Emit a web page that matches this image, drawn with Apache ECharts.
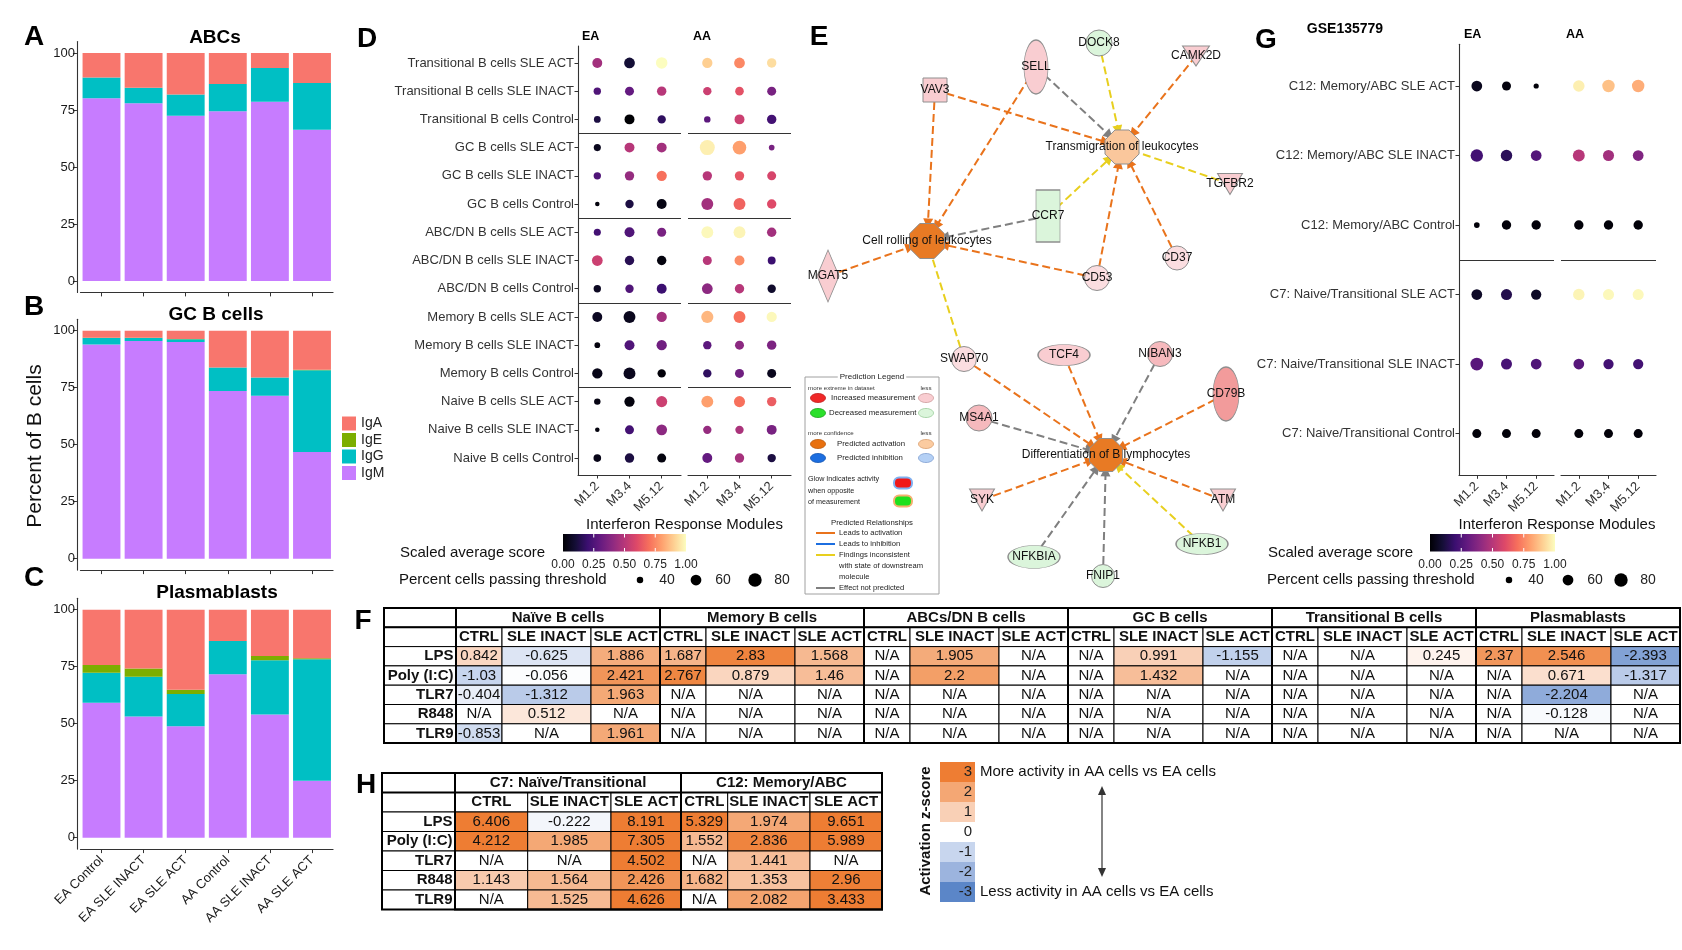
<!DOCTYPE html>
<html>
<head>
<meta charset="utf-8">
<script src="https://cdn.jsdelivr.net/npm/echarts@6.0.0/dist/echarts.min.js"></script>
<style>
html,body{margin:0;padding:0;background:#ffffff;}
#chart{width:1682px;height:950px;}
</style>
</head>
<body>
<div id="chart"></div>
<script>
// ================= DATA =================
const barCategories = ['EA Control','EA SLE INACT','EA SLE ACT','AA Control','AA SLE INACT','AA SLE ACT'];
const isotypes = ['IgA','IgE','IgG','IgM'];
// Panel A: ABCs
const abcIgM = [80.2, 78.0, 72.5, 74.5, 78.6, 66.3];
const abcIgG = [9.0, 6.8, 9.3, 11.9, 14.8, 20.5];
const abcIgE = [0, 0, 0, 0, 0, 0];
const abcIgA = [10.8, 15.2, 18.2, 13.6, 6.6, 13.2];
// Panel B: GC B cells
const gcIgM = [94.0, 95.5, 95.0, 73.5, 71.5, 46.8];
const gcIgG = [2.8, 1.3, 1.3, 10.4, 8.0, 35.9];
const gcIgE = [0.1, 0.1, 0.1, 0, 0, 0.2];
const gcIgA = [3.1, 3.1, 3.6, 16.1, 20.5, 17.1];
// Panel C: Plasmablasts
const pbIgM = [59.2, 53.2, 48.9, 71.7, 54.0, 25.0];
const pbIgG = [13.2, 17.4, 14.1, 14.6, 23.8, 53.3];
const pbIgE = [3.4, 3.6, 1.9, 0, 1.9, 0.4];
const pbIgA = [24.2, 25.8, 35.1, 13.7, 20.3, 21.3];

// Panel D: dot plot (rows listed top to bottom)
const modules = ['M1.2','M3.4','M5.12'];
const dRows = ['Transitional B cells SLE ACT','Transitional B cells SLE INACT','Transitional B cells Control',
  'GC B cells SLE ACT','GC B cells SLE INACT','GC B cells Control',
  'ABC/DN B cells SLE ACT','ABC/DN B cells SLE INACT','ABC/DN B cells Control',
  'Memory B cells SLE ACT','Memory B cells SLE INACT','Memory B cells Control',
  'Naive B cells SLE ACT','Naive B cells SLE INACT','Naive B cells Control'];
const dScoreEA = [[0.45,0.10,1.00],[0.25,0.30,0.50],[0.12,0.00,0.17],[0.05,0.50,0.45],[0.25,0.42,0.70],
  [0.02,0.12,0.03],[0.22,0.25,0.35],[0.55,0.15,0.02],[0.06,0.25,0.20],[0.06,0.05,0.45],
  [0.02,0.25,0.33],[0.04,0.05,0.01],[0.03,0.02,0.55],[0.02,0.22,0.40],[0.04,0.12,0.02]];
const dScoreAA = [[0.90,0.75,0.93],[0.55,0.62,0.35],[0.28,0.55,0.22],[0.97,0.80,0.35],[0.50,0.63,0.58],
  [0.45,0.67,0.60],[0.99,0.98,0.45],[0.50,0.76,0.20],[0.40,0.50,0.08],[0.85,0.70,0.99],
  [0.28,0.40,0.36],[0.17,0.33,0.05],[0.80,0.70,0.65],[0.42,0.47,0.35],[0.30,0.46,0.12]];
const dPctEA = [[55,60,65],[43,50,52],[41,55,47],[42,55,55],[43,52,57],[36,47,55],[42,55,50],[60,52,52],
  [43,47,55],[55,68,57],[38,55,57],[57,68,47],[40,57,62],[36,50,60],[44,52,50]];
const dPctAA = [[57,60,52],[47,48,50],[40,55,52],[95,82,38],[52,52,50],[68,68,52],[68,68,52],[50,55,45],
  [60,52,47],[70,68,57],[47,50,52],[47,50,50],[68,62,52],[47,47,55],[55,52,47]];

// Panel G: GSE135779 dot plot
const gRows = ['C12: Memory/ABC SLE ACT','C12: Memory/ABC SLE INACT','C12: Memory/ABC Control',
  'C7: Naive/Transitional SLE ACT','C7: Naive/Transitional SLE INACT','C7: Naive/Transitional Control'];
const gScoreEA = [[0.05,0.02,0.01],[0.22,0.16,0.26],[0.01,0.01,0.01],[0.07,0.14,0.07],[0.27,0.23,0.25],[0.01,0.01,0.01]];
const gScoreAA = [[0.97,0.87,0.83],[0.50,0.45,0.37],[0.01,0.01,0.01],[0.98,0.99,0.99],[0.27,0.22,0.22],[0.01,0.01,0.01]];
const gPctEA = [[60,50,37],[72,65,60],[38,52,52],[60,62,57],[75,62,60],[50,50,50]];
const gPctAA = [[65,72,72],[68,62,60],[52,52,52],[65,62,62],[60,57,57],[50,50,50]];
const colorbarTicks = ['0.00','0.25','0.50','0.75','1.00'];
const sizeLegend = [40, 60, 80];

// Panel E: network (nodes with measurement / prediction class, and relationships)
const netNodes = [
  ['DOCK8','decreased'],['CAMK2D','increased'],['SELL','increased'],['VAV3','increased'],
  ['Transmigration of leukocytes','activationWeak'],['TGFBR2','increased'],['CCR7','decreased'],
  ['Cell rolling of leukocytes','activation'],['CD37','increasedWeak'],['CD53','increasedWeak'],
  ['MGAT5','increased'],['SWAP70','increasedWeak'],['TCF4','increased'],['NIBAN3','increasedMid'],
  ['CD79B','increasedStrong'],['MS4A1','increasedMid'],['Differentiation of B lymphocytes','activation'],
  ['SYK','increased'],['ATM','increased'],['NFKBIA','decreased'],['NFKB1','decreased'],['FNIP1','decreased']
];
const netLinks = [
  ['VAV3','Cell rolling of leukocytes','activation'],['VAV3','Transmigration of leukocytes','activation'],
  ['SELL','Cell rolling of leukocytes','activation'],['SELL','Transmigration of leukocytes','notPredicted'],
  ['DOCK8','Transmigration of leukocytes','inconsistent'],['CAMK2D','Transmigration of leukocytes','activation'],
  ['TGFBR2','Transmigration of leukocytes','inconsistentBar'],['CCR7','Transmigration of leukocytes','inconsistent'],
  ['CCR7','Cell rolling of leukocytes','notPredicted'],['CD53','Cell rolling of leukocytes','activation'],
  ['CD53','Transmigration of leukocytes','activation'],['CD37','Transmigration of leukocytes','activation'],
  ['MGAT5','Cell rolling of leukocytes','activation'],['SWAP70','Cell rolling of leukocytes','inconsistentBar'],
  ['SWAP70','Differentiation of B lymphocytes','activation'],['TCF4','Differentiation of B lymphocytes','activation'],
  ['NIBAN3','Differentiation of B lymphocytes','notPredicted'],['CD79B','Differentiation of B lymphocytes','activation'],
  ['MS4A1','Differentiation of B lymphocytes','notPredicted'],['SYK','Differentiation of B lymphocytes','activation'],
  ['ATM','Differentiation of B lymphocytes','activation'],['NFKBIA','Differentiation of B lymphocytes','notPredicted'],
  ['FNIP1','Differentiation of B lymphocytes','notPredicted'],['NFKB1','Differentiation of B lymphocytes','inconsistent']
];

// Panel F: activation z-scores
const fGroups = ['Naïve B cells','Memory B cells','ABCs/DN B cells','GC B cells','Transitional B cells','Plasmablasts'];
const fConditions = ['CTRL','SLE INACT','SLE ACT'];
const fStimuli = ['LPS','Poly (I:C)','TLR7','R848','TLR9'];
const fValues = [
  [0.842,-0.625,1.886, 1.687,2.83,1.568, null,1.905,null, null,0.991,-1.155, null,null,0.245, 2.37,2.546,-2.393],
  [-1.03,-0.056,2.421, 2.767,0.879,1.46, null,2.2,null, null,1.432,null, null,null,null, null,0.671,-1.317],
  [-0.404,-1.312,1.963, null,null,null, null,null,null, null,null,null, null,null,null, null,-2.204,null],
  [null,0.512,null, null,null,null, null,null,null, null,null,null, null,null,null, null,-0.128,null],
  [-0.853,null,1.961, null,null,null, null,null,null, null,null,null, null,null,null, null,null,null]
];
// Panel H
const hGroups = ['C7: Naïve/Transitional','C12: Memory/ABC'];
const hConditions = ['CTRL','SLE INACT','SLE ACT'];
const hStimuli = ['LPS','Poly (I:C)','TLR7','R848','TLR9'];
const hValues = [
  [6.406,-0.222,8.191, 5.329,1.974,9.651],
  [4.212,1.985,7.305, 1.552,2.836,5.989],
  [null,null,4.502, null,1.441,null],
  [1.143,1.564,2.426, 1.682,1.353,2.96],
  [null,1.525,4.626, null,2.082,3.433]
];
const zLegendLevels = [3,2,1,0,-1,-2,-3];

// ================= STYLE / LAYOUT =================
const FF = '"Liberation Sans", Arial, Helvetica, sans-serif';
const isoColors = {IgA:'#F8766D', IgE:'#7CAE00', IgG:'#00BFC4', IgM:'#C77CFF'};
const AX = '#333333';
const MAGMA = ['#000004','#140e36','#3b0f70','#641a80','#8c2981','#b73779','#de4968','#f7705c','#fe9f6d','#fecf92','#fcfdbf'];
const Z_STOPS = [[-3,'#5B86C8'],[-2,'#9CB4DE'],[-1,'#C8D6EE'],[0,'#FFFFFF'],[1,'#F9D0B6'],[2,'#F4A774'],[3,'#EE7D33']];

function hex2rgb(h){return [parseInt(h.slice(1,3),16),parseInt(h.slice(3,5),16),parseInt(h.slice(5,7),16)];}
function mix(a,b,t){const A=hex2rgb(a),B=hex2rgb(b);return 'rgb('+A.map((v,i)=>Math.round(v+(B[i]-v)*t)).join(',')+')';}
function magma(t){t=Math.max(0,Math.min(1,t));const s=t*10;const i=Math.min(9,Math.floor(s));return mix(MAGMA[i],MAGMA[i+1],s-i);}
function zColor(v){
  if(v===null||v===undefined) return '#FFFFFF';
  const x=Math.max(-3,Math.min(3,v));
  for(let i=0;i<Z_STOPS.length-1;i++){
    if(x<=Z_STOPS[i+1][0]) return mix(Z_STOPS[i][1],Z_STOPS[i+1][1],(x-Z_STOPS[i][0])/(Z_STOPS[i+1][0]-Z_STOPS[i][0]));
  }
  return Z_STOPS[Z_STOPS.length-1][1];
}
function dotSize(p){return 3+1.55*Math.sqrt(Math.max(0,p-35));}

// network layout (positions of nodes in the drawing) and shapes
const netLayout = {
  'DOCK8':[1099,43],'CAMK2D':[1196,56],'SELL':[1036,67],'VAV3':[935,90],
  'Transmigration of leukocytes':[1122,147],'TGFBR2':[1230,184],'CCR7':[1048,216],
  'Cell rolling of leukocytes':[927,241],'CD37':[1177,258],'CD53':[1097,278],'MGAT5':[828,276],
  'SWAP70':[964,359],'TCF4':[1064,355],'NIBAN3':[1160,354],'CD79B':[1226,394],'MS4A1':[979,418],
  'Differentiation of B lymphocytes':[1106,455],'SYK':[982,500],'ATM':[1223,500],
  'NFKBIA':[1034,557],'NFKB1':[1202,544],'FNIP1':[1103,576]
};
const SYM = {
  octagon:'path://M29.3,0L70.7,0L100,29.3L100,70.7L70.7,100L29.3,100L0,70.7L0,29.3Z',
  ellipse:'path://M0,50A50,50 0 1 0 100,50A50,50 0 1 0 0,50Z',
  downTri:'path://M0,0L100,0L50,100Z',
  tbar:'path://M0,0L100,0L100,16L0,16ZM50,100L50,100',
  circle:'circle', rect:'rect', diamond:'diamond'
};
const netShape = {
  'DOCK8':['circle',[26,26]],'CAMK2D':['downTri',[27,20]],'SELL':['ellipse',[24,54]],'VAV3':['rect',[24,24]],
  'Transmigration of leukocytes':['octagon',[34,34]],'TGFBR2':['downTri',[25,21]],'CCR7':['rect',[24,52]],
  'Cell rolling of leukocytes':['octagon',[35,35]],'CD37':['circle',[24,24]],'CD53':['circle',[25,25]],
  'MGAT5':['diamond',[22,52]],'SWAP70':['circle',[25,25]],'TCF4':['ellipse',[52,21]],'NIBAN3':['circle',[25,25]],
  'CD79B':['ellipse',[26,54]],'MS4A1':['circle',[26,26]],'Differentiation of B lymphocytes':['octagon',[33,33]],
  'SYK':['downTri',[25,22]],'ATM':['downTri',[25,22]],'NFKBIA':['ellipse',[52,23]],'NFKB1':['ellipse',[52,21]],
  'FNIP1':['circle',[23,23]]
};
const netFill = {decreased:'#DBF5DB', increased:'#F9CDD1', increasedWeak:'#FBDDE0', increasedMid:'#F6B9BD',
  increasedStrong:'#F29B9B', activation:'#E87A24', activationWeak:'#FAC79C'};
const relColor = {activation:'#E9731C', notPredicted:'#7F7F7F', inconsistent:'#E8CF1E', inconsistentBar:'#E8CF1E'};

// table column widths (layout)
const fColW = [72].concat(...fGroups.map(()=>[46,89,69]));
const hColW = [73, 72.7, 83.3, 70, 46.7, 82.3, 72];

// ================= BUILD =================
const chart = echarts.init(document.getElementById('chart'), null, {width:1682, height:950});

const grids = [
  {left:80.45, top:41.6, width:252.6, height:250.8},   // 0 A
  {left:80.45, top:319.3, width:252.6, height:250.8},  // 1 B
  {left:80.45, top:598.3, width:252.6, height:250.8},  // 2 C
  {left:578, top:46, width:103, height:429},           // 3 D EA
  {left:688, top:46, width:103, height:429},           // 4 D AA
  {left:1459, top:44.3, width:95, height:431},         // 5 G EA
  {left:1561, top:44.3, width:95, height:431},         // 6 G AA
  {left:0, top:0, width:1682, height:950},             // 7 E network
  {left:384, top:608, width:1296, height:135.1},       // 8 F table
  {left:382, top:773, width:500, height:136.5}         // 9 H table
];
const xAxes = [], yAxes = [];
const axLine = {show:true, onZero:false, lineStyle:{color:AX, width:1.1}};
for(let i=0;i<3;i++){
  xAxes.push({type:'category', gridIndex:i, data:barCategories, boundaryGap:true,
    axisLine:axLine, axisTick:{show:true, alignWithLabel:true, interval:0, length:4, lineStyle:{color:AX}},
    axisLabel: i===2 ? {show:true, interval:0, rotate:45, fontSize:13, color:'#1a1a1a', margin:9, fontFamily:FF} : {show:false},
    splitLine:{show:false}});
  yAxes.push({type:'value', gridIndex:i, min:-5, max:105, offset:3.5, axisLine:axLine,
    axisTick:{show:true, length:4, customValues:[0,25,50,75,100], lineStyle:{color:AX}},
    axisLabel:{customValues:[0,25,50,75,100], fontSize:13, color:'#1a1a1a', margin:2, fontFamily:FF},
    splitLine:{show:false}});
}
function dotAxes(gi, nRows, rowNames, showY){
  xAxes.push({type:'value', gridIndex:gi, min:0.4, max:3.6, axisLine:axLine,
    axisTick:{show:true, customValues:[1,2,3], length:3.5, lineStyle:{color:AX}},
    axisLabel:{customValues:[1,2,3], formatter:v=>modules[Math.round(v)-1], rotate:45, fontSize:13, color:'#333', margin:9, fontFamily:FF},
    splitLine:{show:false}});
  const vals = []; for(let k=1;k<=nRows;k++) vals.push(k);
  yAxes.push({type:'value', gridIndex:gi, min:0.4, max:nRows+0.6,
    axisLine: showY ? axLine : {show:false},
    axisTick: showY ? {show:true, customValues:vals, length:3.5, lineStyle:{color:AX}} : {show:false},
    axisLabel: showY ? {customValues:vals, formatter:v=>rowNames[nRows-Math.round(v)], fontSize:13, color:'#333', margin:4, fontFamily:FF} : {show:false},
    splitLine:{show:false}});
}
dotAxes(3, 15, dRows, true); dotAxes(4, 15, dRows, false);
dotAxes(5, 6, gRows, true); dotAxes(6, 6, gRows, false);
xAxes.push({type:'value', gridIndex:7, min:0, max:1682, show:false});
yAxes.push({type:'value', gridIndex:7, min:0, max:950, inverse:true, show:false});
xAxes.push({type:'value', gridIndex:8, min:0, max:fColW.reduce((a,b)=>a+b,0), show:false});
yAxes.push({type:'value', gridIndex:8, min:0, max:7, inverse:true, show:false});
xAxes.push({type:'value', gridIndex:9, min:0, max:hColW.reduce((a,b)=>a+b,0), show:false});
yAxes.push({type:'value', gridIndex:9, min:0, max:7, inverse:true, show:false});

const series = [];
// stacked bars
const barPanels = [
  {IgM:abcIgM, IgG:abcIgG, IgE:abcIgE, IgA:abcIgA},
  {IgM:gcIgM, IgG:gcIgG, IgE:gcIgE, IgA:gcIgA},
  {IgM:pbIgM, IgG:pbIgG, IgE:pbIgE, IgA:pbIgA}
];
barPanels.forEach((p, gi)=>{
  ['IgM','IgG','IgE','IgA'].forEach(iso=>{
    series.push({type:'bar', name:iso, xAxisIndex:gi, yAxisIndex:gi, stack:'st'+gi, barCategoryGap:'10%',
      data:p[iso], itemStyle:{color:isoColors[iso]}, emphasis:{disabled:true}, silent:true});
  });
});
// dot plots
function dotSeries(ai, score, pct, nRows, seps){
  const data = [];
  for(let r=0;r<nRows;r++) for(let c=0;c<3;c++) data.push([c+1, nRows-r, score[r][c], pct[r][c]]);
  series.push({type:'scatter', xAxisIndex:ai, yAxisIndex:ai, data, symbol:'circle',
    symbolSize: v=>dotSize(v[3]), itemStyle:{color: p=>magma(p.value[2]), opacity:1}, silent:true,
    markLine:{silent:true, symbol:'none', label:{show:false}, lineStyle:{color:AX, width:1.1, type:'solid'},
      data: seps.map(s=>({yAxis:s}))}});
}
dotSeries(3, dScoreEA, dPctEA, 15, [3.5,6.5,9.5,12.5]);
dotSeries(4, dScoreAA, dPctAA, 15, [3.5,6.5,9.5,12.5]);
dotSeries(5, gScoreEA, gPctEA, 6, [3.5]);
dotSeries(6, gScoreAA, gPctAA, 6, [3.5]);

// network
series.push({type:'graph', coordinateSystem:'cartesian2d', xAxisIndex:7, yAxisIndex:7, layout:'none', silent:true,
  data: netNodes.map(([name, cls])=>({name, value:netLayout[name], symbol:SYM[netShape[name][0]], symbolSize:netShape[name][1],
    itemStyle:{color:netFill[cls], borderColor:'#8f8f8f', borderWidth:1}})),
  links: netLinks.map(([s,t,rel])=>({source:s, target:t, lineStyle:{color:relColor[rel]},
    symbol: rel==='inconsistentBar' ? ['none',SYM.tbar] : ['none','triangle'],
    symbolSize: rel==='inconsistentBar' ? [0,12] : [0,10]})),
  edgeSymbol:['none','triangle'], edgeSymbolSize:[0,10],
  lineStyle:{width:2, type:[8,4], opacity:1, curveness:0},
  label:{show:true, position:'inside', fontSize:12, color:'#111', fontFamily:FF},
  emphasis:{disabled:true}, z:3});

// tables
function buildTable(groups, conds, stims, vals, colW){
  const e=[0]; colW.forEach(w=>e.push(e[e.length-1]+w));
  const nC=conds.length, cells=[];
  cells.push({x0:0,x1:e[1],r0:0,r1:1,text:'',kind:'head'});
  groups.forEach((g,gi)=>cells.push({x0:e[1+gi*nC],x1:e[1+(gi+1)*nC],r0:0,r1:1,text:g,kind:'head'}));
  cells.push({x0:0,x1:e[1],r0:1,r1:2,text:'',kind:'head'});
  for(let j=0;j<groups.length*nC;j++) cells.push({x0:e[1+j],x1:e[2+j],r0:1,r1:2,text:conds[j%nC],kind:'head'});
  stims.forEach((s,si)=>{
    cells.push({x0:0,x1:e[1],r0:2+si,r1:3+si,text:s,kind:'rowhead'});
    vals[si].forEach((v,j)=>cells.push({x0:e[1+j],x1:e[2+j],r0:2+si,r1:3+si,text:v===null?'N/A':String(v),value:v,kind:'val'}));
  });
  const R=stims.length+2, W=e[e.length-1];
  cells.push({x0:0,x1:W,r0:0,r1:1,kind:'frame'});
  groups.forEach((g,gi)=>cells.push({x0:e[1+gi*nC],x1:e[1+(gi+1)*nC],r0:0,r1:R,kind:'frame'}));
  cells.push({x0:0,x1:W,r0:0,r1:R,kind:'frame'});
  return cells;
}
function tableSeries(ai, cells){
  series.push({type:'custom', xAxisIndex:ai, yAxisIndex:ai, clip:false, silent:true,
    data: cells.map(c=>[c.x0,c.r0,c.x1,c.r1]), encode:{x:[0,2], y:[1,3]},
    renderItem:(params, api)=>{
      const c=cells[params.dataIndex];
      const p0=api.coord([c.x0,c.r0]), p1=api.coord([c.x1,c.r1]);
      const shape={x:p0[0], y:p0[1], width:p1[0]-p0[0], height:p1[1]-p0[1]};
      if(c.kind==='frame') return {type:'rect', shape, style:{fill:'none', stroke:'#000', lineWidth:2}};
      return {type:'rect', shape, style:{fill: c.kind==='val'?zColor(c.value):'#FFFFFF', stroke:'#000', lineWidth:1},
        textContent:{style:{text:c.text, fill:'#111', fontSize:15, fontWeight:c.kind==='val'?'normal':'bold', fontFamily:FF}},
        textConfig:{position: c.kind==='rowhead'?'insideRight':'inside', distance:3}};
    }});
}
tableSeries(8, buildTable(fGroups, fConditions, fStimuli, fValues, fColW));
tableSeries(9, buildTable(hGroups, hConditions, hStimuli, hValues, hColW));

// ================= GRAPHIC (titles, legends, annotations) =================
const G = [];
function txt(t, x, y, o){
  o=o||{};
  const st={text:t, x:0, y:0, fill:o.color||'#000', font:(o.bold?'bold ':'')+(o.size||13)+'px '+FF,
    textAlign:o.align||'left', align:o.align||'left', textVerticalAlign:'middle', verticalAlign:'middle'};
  if(o.bg){st.backgroundColor=o.bg; st.padding=[0,2];}
  G.push({type:'text', x, y, rotation:o.rot||0, silent:true, z:20, style:st});
}
// panel letters
[['A',34,37],['B',34,307],['C',34,578],['D',367,39],['E',819,37],['F',363,621],['G',1266,40],['H',366,785]]
  .forEach(([t,x,y])=>txt(t,x,y,{size:28,bold:true,align:'center'}));
// bar titles
txt('ABCs',215,38,{size:19,bold:true,align:'center'});
txt('GC B cells',216,315,{size:19,bold:true,align:'center'});
txt('Plasmablasts',217,593,{size:19,bold:true,align:'center'});
txt('Percent of B cells',35,446,{size:21,align:'center',rot:Math.PI/2,color:'#111'});
// facet labels
txt('EA',582,37,{size:12.5,bold:true}); txt('AA',693,37,{size:12.5,bold:true});
txt('EA',1464,35,{size:12.5,bold:true}); txt('AA',1566,35,{size:12.5,bold:true});
txt('GSE135779',1345,29,{size:14,bold:true,align:'center'});
// dot plot legends
function dotLegend(cx, barX, barW, labX, dotXs){
  txt('Interferon Response Modules', cx, 525, {size:15,align:'center',color:'#111'});
  txt('Scaled average score', labX, 553, {size:15,color:'#111'});
  G.push({type:'rect', shape:{x:barX,y:534,width:barW,height:17.5}, silent:true,
    style:{fill:new echarts.graphic.LinearGradient(0,0,1,0,MAGMA.map((c,i)=>({offset:i/10,color:c})))}});
  [0.25,0.5,0.75].forEach(f=>{
    const x=barX+barW*f;
    G.push({type:'line',shape:{x1:x,y1:534,x2:x,y2:537.5},style:{stroke:'#fff',lineWidth:1},silent:true});
    G.push({type:'line',shape:{x1:x,y1:548,x2:x,y2:551.5},style:{stroke:'#fff',lineWidth:1},silent:true});
  });
  colorbarTicks.forEach((t,i)=>txt(t, barX+barW*i/4, 565, {size:12,align:'center',color:'#222'}));
  txt('Percent cells passing threshold', labX-1, 580, {size:15,color:'#111'});
  sizeLegend.forEach((p,i)=>{
    G.push({type:'circle', shape:{cx:dotXs[i], cy:580, r:dotSize(p)/2}, style:{fill:'#000'}, silent:true});
    txt(String(p), dotXs[i]+27, 580, {size:14,align:'center',color:'#222'});
  });
}
dotLegend(684.5, 563, 123, 400, [640,696,755]);
dotLegend(1557, 1430, 125, 1268, [1509,1568,1621]);

// IPA prediction legend (panel E)
G.push({type:'rect', shape:{x:805,y:377,width:134,height:217}, style:{fill:'#fff',stroke:'#a0a0a0',lineWidth:1}, silent:true});
txt('Prediction Legend',872,377,{size:8,align:'center',bg:'#fff',color:'#222'});
function ell(cx,cy,fill,stroke){G.push({type:'ellipse',shape:{cx,cy,rx:7.5,ry:4.5},style:{fill,stroke,lineWidth:0.8},silent:true});}
txt('more extreme in dataset',808,388,{size:6.2,color:'#333'}); txt('less',926,388,{size:6.2,align:'center',color:'#333'});
ell(818,398,'#F02828','#c02020'); txt('Increased measurement',831,398,{size:7.8,color:'#222'}); ell(926,398,'#F9CDD1','#c99');
ell(818,413,'#2BE02B','#20a020'); txt('Decreased measurement',829,413,{size:7.8,color:'#222'}); ell(926,413,'#DBF5DB','#9c9');
txt('more confidence',808,433,{size:6.2,color:'#333'}); txt('less',926,433,{size:6.2,align:'center',color:'#333'});
ell(818,444,'#E8700F','#b85a10'); txt('Predicted activation',837,444,{size:7.8,color:'#222'}); ell(926,444,'#FBCBA0','#d9a070');
ell(818,458,'#1C6EE0','#1555b0'); txt('Predicted inhibition',837,458,{size:7.8,color:'#222'}); ell(926,458,'#B4D0F5','#80a0d0');
txt('Glow Indicates activity',808,479,{size:7.2,color:'#222'}); txt('when opposite',808,491,{size:7.2,color:'#222'}); txt('of measurement',808,502,{size:7.2,color:'#222'});
G.push({type:'rect',shape:{x:894,y:477.5,width:18,height:11,r:5},style:{fill:'#F01818',stroke:'#7fb0f0',lineWidth:2},silent:true});
G.push({type:'rect',shape:{x:894,y:495.5,width:18,height:11,r:5},style:{fill:'#1EE01E',stroke:'#F5B070',lineWidth:2},silent:true});
txt('Predicted Relationships',872,523,{size:7.8,align:'center',color:'#222'});
[['#E9731C','Leads to activation',533],['#1C6EE0','Leads to inhibition',544],['#E8CF1E','Findings inconsistent',555],['#7F7F7F','Effect not predicted',588]]
  .forEach(([c,t,y])=>{G.push({type:'line',shape:{x1:816,y1:y,x2:835,y2:y},style:{stroke:c,lineWidth:2},silent:true}); txt(t,839,y,{size:7.6,color:'#222'});});
txt('with state of downstream',839,566,{size:7.6,color:'#222'}); txt('molecule',839,577,{size:7.6,color:'#222'});

// z-score legend (panel H)
zLegendLevels.forEach((lv,i)=>{
  G.push({type:'rect',shape:{x:940,y:762+i*20,width:35,height:20},style:{fill:zColor(lv)},silent:true});
  txt(String(lv),972,772+i*20,{size:15,align:'right',color:'#222'});
});
txt('Activation z-score',926,831,{size:15,bold:true,align:'center',rot:Math.PI/2,color:'#111'});
txt('More activity in AA cells vs EA cells',980,772,{size:15,color:'#111'});
txt('Less activity in AA cells vs EA cells',980,892,{size:15,color:'#111'});
G.push({type:'line',shape:{x1:1102,y1:793,x2:1102,y2:870},style:{stroke:'#333',lineWidth:1.2},silent:true});
G.push({type:'polygon',shape:{points:[[1102,786],[1098,795],[1106,795]]},style:{fill:'#333'},silent:true});
G.push({type:'polygon',shape:{points:[[1102,877],[1098,868],[1106,868]]},style:{fill:'#333'},silent:true});

chart.setOption({
  animation:false,
  backgroundColor:'#ffffff',
  textStyle:{fontFamily:FF},
  grid:grids, xAxis:xAxes, yAxis:yAxes, series,
  legend:{data:isotypes, orient:'vertical', left:337, top:411.5, itemWidth:14, itemHeight:14, itemGap:2.5,
    icon:'rect', selectedMode:false, textStyle:{fontSize:14, color:'#222', lineHeight:14, fontFamily:FF}},
  graphic:{elements:G}
});
</script>
</body>
</html>
